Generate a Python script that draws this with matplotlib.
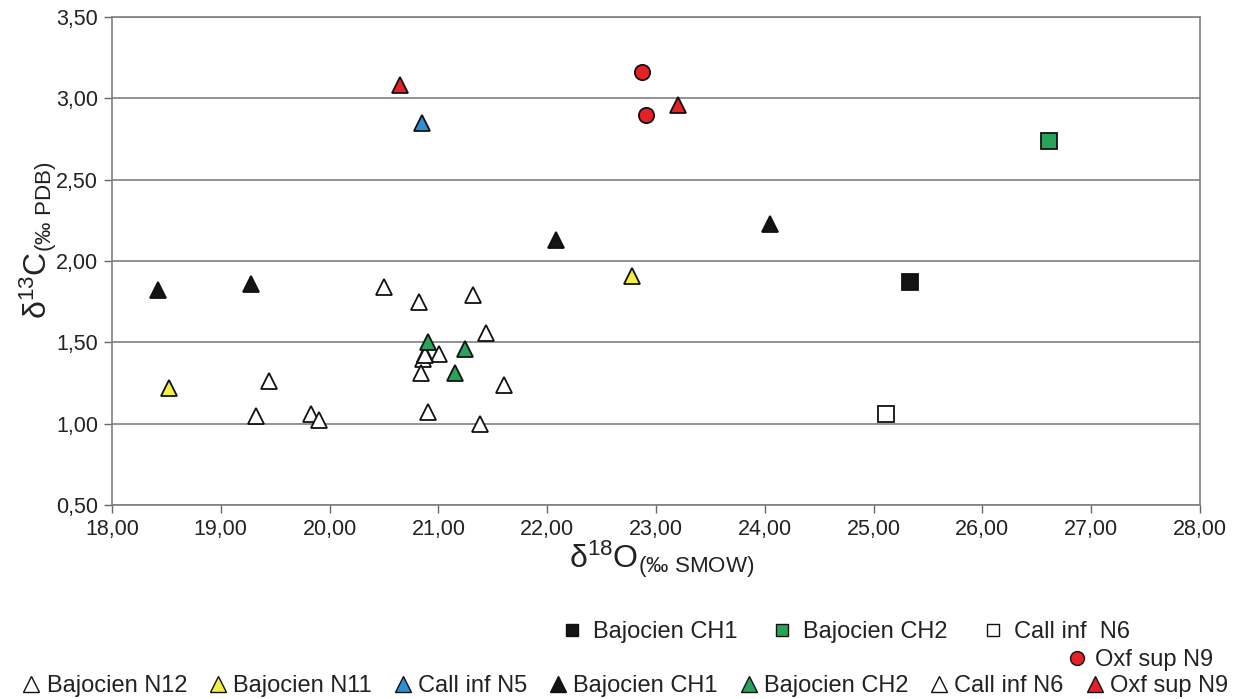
import matplotlib
matplotlib.use("Agg")
import matplotlib.pyplot as plt
from matplotlib.lines import Line2D
from matplotlib.ticker import FuncFormatter, MultipleLocator

plt.rcParams['font.family'] = ['Liberation Sans', 'DejaVu Sans']
plt.rcParams['mathtext.fontset'] = 'custom'
plt.rcParams['mathtext.rm'] = 'Liberation Sans'
plt.rcParams['mathtext.it'] = 'Liberation Sans:italic'
plt.rcParams['mathtext.bf'] = 'Liberation Sans:bold'

# ---- data (d18O, d13C) ----
sq_ch1_x = [25.33]; sq_ch1_y = [1.87]
sq_ch2_x = [26.61]; sq_ch2_y = [2.74]
sq_n6_x = [25.11]; sq_n6_y = [1.06]
circ_n9_x = [22.87, 22.91]; circ_n9_y = [3.16, 2.90]

tri_n12_x = [20.50, 20.82, 21.32, 21.44, 21.01, 20.86, 20.84, 21.60, 20.90, 21.38,
             19.44, 19.32, 19.83, 19.90]
tri_n12_y = [1.84, 1.75, 1.79, 1.56, 1.43, 1.40, 1.31, 1.24, 1.07, 1.00,
             1.26, 1.05, 1.06, 1.02]
tri_n11_x = [18.52, 22.78]; tri_n11_y = [1.22, 1.91]
tri_n5_x = [20.85]; tri_n5_y = [2.85]
tri_ch1_x = [18.42, 19.28, 22.08, 24.05, 20.88]; tri_ch1_y = [1.82, 1.86, 2.13, 2.23, 1.43]
tri_ch2_x = [20.90, 21.24, 21.15]; tri_ch2_y = [1.50, 1.46, 1.31]
tri_n6_x = [20.88]; tri_n6_y = [1.42]
tri_n9_x = [20.65, 23.20]; tri_n9_y = [3.08, 2.96]

sq_labels = ['Bajocien CH1', 'Bajocien CH2', 'Call inf  N6']
circ_labels = ['Oxf sup N9']
tri_labels = ['Bajocien N12', 'Bajocien N11', 'Call inf N5', 'Bajocien CH1',
              'Bajocien CH2', 'Call inf N6', 'Oxf sup N9']

BLACK = '#141414'
GREEN = '#2aa35a'
RED = '#e42127'
BLUE = '#2b8fd8'
YELLOW = '#f4ef45'
WHITE = '#ffffff'

fig = plt.figure(figsize=(12.35, 6.99), dpi=100)
ax = fig.add_axes([112/1235, 1-505/699, (1200-112)/1235, (505-17)/699])

ax.set_xlim(18, 28)
ax.set_ylim(0.5, 3.5)
ax.xaxis.set_major_locator(MultipleLocator(1))
ax.yaxis.set_major_locator(MultipleLocator(0.5))
fmt = FuncFormatter(lambda v, p: f"{v:.2f}".replace('.', ','))
ax.xaxis.set_major_formatter(fmt)
ax.yaxis.set_major_formatter(fmt)
ax.tick_params(labelsize=15.5, colors='#222222', length=6, width=1, color='#666666')
ax.tick_params(axis='x', pad=4)
ax.tick_params(axis='y', pad=4)
ax.grid(axis='y', color='#808080', linewidth=1.2)
ax.set_axisbelow(True)
for s in ax.spines.values():
    s.set_color('#808080')
    s.set_linewidth(1.2)

tri_ms = 12
sq_ms = 11
ci_ms = 11
ew = 1.3

def plot(x, y, marker, color, ms):
    ax.plot(x, y, linestyle='none', marker=marker, markersize=ms,
            markerfacecolor=color, markeredgecolor='#111111', markeredgewidth=ew,
            clip_on=False, zorder=3)

plot(tri_n12_x, tri_n12_y, '^', WHITE, tri_ms)
plot(tri_ch1_x, tri_ch1_y, '^', BLACK, tri_ms)
plot(tri_n6_x, tri_n6_y, '^', WHITE, tri_ms)
plot(tri_n11_x, tri_n11_y, '^', YELLOW, tri_ms)
plot(tri_n5_x, tri_n5_y, '^', BLUE, tri_ms)
plot(tri_ch2_x, tri_ch2_y, '^', GREEN, tri_ms)
plot(tri_n9_x, tri_n9_y, '^', RED, tri_ms)
plot(sq_ch1_x, sq_ch1_y, 's', BLACK, sq_ms)
plot(sq_ch2_x, sq_ch2_y, 's', GREEN, sq_ms)
plot(sq_n6_x, sq_n6_y, 's', WHITE, sq_ms)
plot(circ_n9_x, circ_n9_y, 'o', RED, ci_ms)

ax.set_ylabel(r'$\mathrm{δ}^{13}\mathrm{C}_{(‰\ \mathrm{PDB})}$', fontsize=23, color='#222222')
ax.yaxis.set_label_coords(-(112-38)/1088, (505-240)/488)
ax.yaxis.label.set_verticalalignment('center')
ax.set_xlabel(r'$\mathrm{δ}^{18}\mathrm{O}_{(‰\ \mathrm{SMOW})}$', fontsize=23, color='#222222')
ax.xaxis.set_label_coords(0.505, -(539-505)/488)
ax.xaxis.label.set_verticalalignment('top')

def h(marker, color, ms=10):
    return Line2D([], [], linestyle='none', marker=marker, markersize=ms,
                  markerfacecolor=color, markeredgecolor='#111111', markeredgewidth=1)

leg_kw = dict(frameon=False, fontsize=17, borderpad=0, borderaxespad=0,
              labelcolor='#222222', handlelength=0.8)

l1 = fig.legend([h('s', BLACK, 9), h('s', GREEN, 9), h('s', WHITE, 9)], sq_labels,
                loc='center right', bbox_to_anchor=(1130/1235, 1-632/699), ncol=3,
                handletextpad=0.5, columnspacing=1.5, **leg_kw)
l2 = fig.legend([h('o', RED, 10)], circ_labels,
                loc='center right', bbox_to_anchor=(1213/1235, 1-660/699), ncol=1,
                handletextpad=0.35, columnspacing=1.0, **leg_kw)
tri_colors = [WHITE, YELLOW, BLUE, BLACK, GREEN, WHITE, RED]
l3 = fig.legend([h('^', c, 11) for c in tri_colors], tri_labels,
                loc='center', bbox_to_anchor=(625/1235, 1-686/699), ncol=7,
                handletextpad=0.25, columnspacing=0.9, **leg_kw)

fig.savefig('out.png', dpi=100, facecolor='white')
